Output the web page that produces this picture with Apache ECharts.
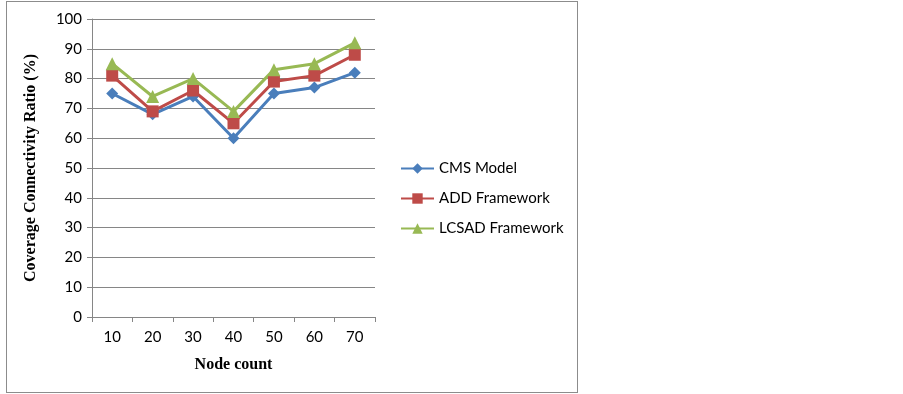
<!DOCTYPE html>
<html><head><meta charset="utf-8">
<script src="https://cdn.jsdelivr.net/npm/echarts@6/dist/echarts.min.js"></script>
<style>html,body{margin:0;padding:0;background:#fff}#c{width:903px;height:394px}
#frame{position:absolute;left:6px;top:1px;width:570px;height:390px;border:1px solid #8c8c8c;pointer-events:none}</style>
</head><body><div id="c"></div><div id="frame"></div>
<script>
const categories = ['10','20','30','40','50','60','70'];
const cmsModel = [75, 68, 74, 60, 75, 77, 82];
const addFramework = [81, 69, 76, 65, 79, 81, 88];
const lcsadFramework = [85, 74, 80, 69, 83, 85, 92];
const seriesNames = ['CMS Model', 'ADD Framework', 'LCSAD Framework'];

const chart = echarts.init(document.getElementById('c'));
const labelFont = {fontFamily: 'Lato', fontSize: 15, color: '#000'};
chart.setOption({
  animation: false,
  grid: {left: 92, top: 19, width: 283, height: 298},
  legend: {
    orient: 'vertical', left: 395, top: 156, itemGap: 15,
    itemWidth: 33, itemHeight: 13,
    textStyle: {fontFamily: 'Lato', fontSize: 15, color: '#000'},
    data: seriesNames
  },
  xAxis: {
    type: 'category', data: categories, boundaryGap: true,
    name: 'Node count', nameLocation: 'middle', nameGap: 40,
    nameTextStyle: {fontFamily: 'Liberation Serif', fontWeight: 'bold', fontSize: 16, color: '#000'},
    axisLine: {lineStyle: {color: '#868686', width: 1}},
    axisTick: {show: true, length: 5, lineStyle: {color: '#868686'}},
    axisLabel: Object.assign({margin: 13}, labelFont)
  },
  yAxis: {
    type: 'value', min: 0, max: 100, interval: 10,
    name: 'Coverage Connectivity Ratio (%)', nameLocation: 'middle', nameGap: 53,
    nameTextStyle: {fontFamily: 'Liberation Serif', fontWeight: 'bold', fontSize: 16, color: '#000'},
    axisLine: {show: true, lineStyle: {color: '#868686', width: 1}},
    axisTick: {show: true, length: 5, lineStyle: {color: '#868686'}},
    splitLine: {lineStyle: {color: '#868686', width: 1}},
    axisLabel: Object.assign({margin: 10}, labelFont)
  },
  series: [
    {name: seriesNames[0], type: 'line', data: cmsModel, symbol: 'diamond', symbolSize: 12,
     lineStyle: {color: '#4A7EBB', width: 3}, itemStyle: {color: '#4A7EBB'}},
    {name: seriesNames[1], type: 'line', data: addFramework, symbol: 'rect', symbolSize: 12,
     lineStyle: {color: '#BE4B48', width: 3}, itemStyle: {color: '#BE4B48'}},
    {name: seriesNames[2], type: 'line', data: lcsadFramework, symbol: 'triangle', symbolSize: 13,
     lineStyle: {color: '#98B954', width: 3}, itemStyle: {color: '#98B954'}}
  ]
});
</script></body></html>
